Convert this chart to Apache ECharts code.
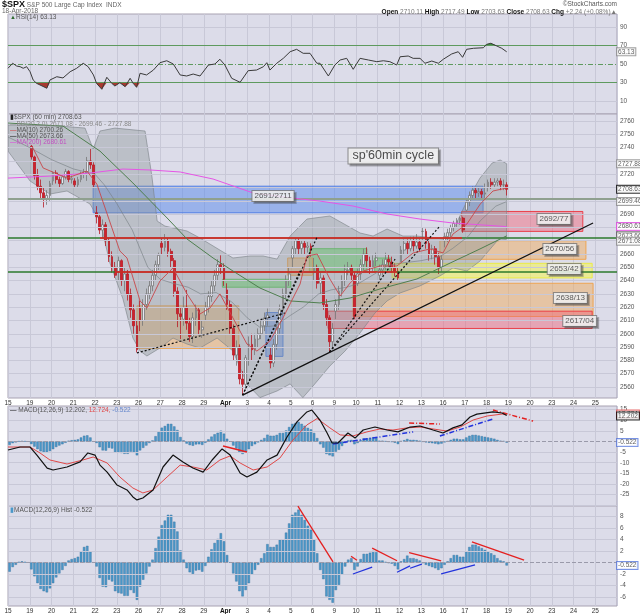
<!DOCTYPE html>
<html>
<head>
<meta charset="utf-8">
<script src="https://cdn.jsdelivr.net/npm/echarts@6.0.0/dist/echarts.min.js"></script>
<style>
html,body{margin:0;padding:0;background:#ffffff;}
#chart{width:640px;height:614px;}
</style>
</head>
<body>
<div id="chart"></div>
<script>
// ================= DATA =================
const dayLabels = ['15','19','20','21','22','23','26','27','28','29','Apr','3','4','5','6','9','10','11','12','13','16','17','18','19','20','23','24','25'];

// hourly bars [open, high, low, close], 7 per trading day, starting Mar 19 (first day slot shows no bars)
const firstBar = 7;
const ohlc = [
 [2741,2742,2731,2733],[2733,2734,2716,2719],[2719,2724,2708,2711],[2711,2716,2702,2706],[2706,2710,2695,2701],[2701,2708,2697,2704],[2704,2715,2700,2713],
 [2715,2722,2712,2721],[2721,2723,2713,2716],[2716,2718,2710,2713],[2713,2720,2712,2718],[2718,2724,2716,2722],[2722,2723,2714,2716],[2716,2719,2713,2717],
 [2715,2717,2710,2712],[2712,2718,2710,2716],[2716,2722,2714,2720],[2720,2724,2717,2722],[2722,2733,2715,2730],[2730,2739,2724,2727],[2727,2729,2710,2712],
 [2691,2696,2683,2688],[2688,2690,2675,2678],[2678,2686,2672,2682],[2682,2684,2666,2670],[2670,2672,2654,2658],[2658,2662,2646,2650],[2650,2654,2642,2644],
 [2647,2658,2640,2655],[2655,2656,2636,2640],[2640,2650,2632,2645],[2645,2648,2625,2630],[2630,2634,2612,2618],[2618,2622,2600,2606],[2606,2610,2586,2588],
 [2619,2625,2602,2610],[2610,2626,2606,2622],[2622,2634,2618,2630],[2630,2640,2626,2636],[2636,2648,2632,2644],[2644,2655,2640,2652],[2652,2661,2648,2659],
 [2668,2672,2660,2665],[2665,2675,2662,2670],[2670,2672,2658,2662],[2662,2664,2650,2655],[2655,2657,2628,2632],[2632,2635,2605,2615],[2615,2620,2596,2613],
 [2611,2628,2606,2620],[2620,2633,2603,2608],[2608,2612,2594,2598],[2598,2616,2593,2612],[2612,2622,2606,2618],[2618,2620,2599,2603],[2603,2610,2597,2605],
 [2614,2624,2610,2620],[2620,2632,2616,2628],[2628,2640,2624,2636],[2636,2648,2632,2644],[2644,2656,2640,2652],[2652,2659,2645,2650],[2650,2653,2636,2641],
 [2633,2638,2618,2622],[2622,2625,2600,2604],[2604,2607,2580,2584],[2584,2595,2576,2590],[2590,2592,2562,2566],[2566,2572,2554,2562],[2562,2584,2558,2582],
 [2592,2598,2576,2592],[2592,2600,2580,2588],[2588,2600,2584,2596],[2596,2604,2590,2600],[2600,2610,2596,2606],[2606,2616,2602,2612],[2612,2619,2606,2614],
 [2584,2590,2574,2578],[2578,2596,2575,2592],[2592,2608,2588,2604],[2604,2622,2600,2618],[2618,2634,2614,2630],[2630,2644,2626,2640],[2640,2650,2636,2645],
 [2657,2666,2650,2664],[2664,2672,2660,2670],[2670,2672,2660,2664],[2664,2670,2660,2668],[2668,2670,2660,2665],[2665,2669,2661,2666],[2666,2668,2658,2663],
 [2646,2657,2640,2650],[2650,2652,2634,2638],[2638,2646,2630,2642],[2642,2644,2618,2622],[2622,2626,2606,2612],[2612,2614,2586,2594],[2594,2608,2590,2604],
 [2617,2626,2611,2622],[2622,2636,2618,2632],[2632,2644,2628,2640],[2640,2652,2636,2648],[2648,2654,2644,2650],[2650,2652,2640,2644],[2644,2646,2611,2613],
 [2638,2649,2636,2645],[2645,2656,2640,2652],[2652,2664,2648,2660],[2660,2665,2650,2655],[2655,2658,2645,2650],[2650,2659,2647,2655],[2655,2661,2651,2657],
 [2644,2652,2639,2648],[2648,2656,2644,2652],[2652,2661,2648,2656],[2656,2660,2650,2654],[2654,2658,2646,2650],[2650,2653,2643,2647],[2647,2650,2640,2642],
 [2654,2666,2654,2663],[2663,2671,2660,2668],[2668,2671,2660,2664],[2664,2673,2662,2670],[2670,2673,2662,2666],[2666,2675,2664,2669],[2669,2671,2662,2664],
 [2677,2680,2670,2677],[2677,2679,2664,2668],[2668,2670,2655,2660],[2660,2667,2656,2664],[2664,2666,2652,2658],[2658,2661,2645,2650],[2650,2659,2647,2656],
 [2670,2676,2665,2673],[2673,2679,2669,2676],[2676,2682,2672,2680],[2680,2685,2677,2683],[2683,2687,2680,2685],[2685,2688,2682,2687],[2687,2688,2676,2678],
 [2693,2702,2692,2699],[2699,2707,2696,2704],[2704,2711,2701,2708],[2708,2710,2702,2706],[2706,2710,2703,2707],[2707,2709,2702,2705],[2705,2713,2702,2706],
 [2710,2716,2707,2714],[2714,2717,2709,2712],[2712,2717,2710,2714],[2714,2717,2711,2715],[2715,2717,2708,2712],[2712,2716,2708,2712],[2712,2714,2704,2708.63]
];

// overlay lines, [bar position, value]
const ma10 = [[7.7,2741.2],[11.3,2724.7],[19,2717.1],[25.4,2722.4],[28.6,2712.6],[36,2662.3],[38.3,2657],[42.5,2624.7],[44.7,2619.4],[48.9,2639.7],[53.1,2649.5],[57.6,2630],[61.8,2614.9],[65,2619.4],[68.2,2630],[72.4,2611.9],[76.9,2592.3],[80.1,2587],[84.3,2594.6],[88.5,2611.9],[94,2637.4],[96.2,2658.5],[99.5,2660],[103.6,2641.2],[106.9,2628.4],[110.1,2638.2],[114.3,2647.2],[119.7,2651],[125.2,2651],[130.4,2660.8],[135.8,2663.8],[140,2660.8],[143.2,2675],[147.7,2682.6],[152,2697.6],[156.1,2707.4],[160.5,2709.6]];
const ma50 = [[0,2758.5],[17.7,2756.2],[29.6,2737.4],[40.2,2713.4],[51.2,2687.1],[57.6,2671.3],[66,2657],[72.4,2647.2],[81.1,2634.4],[90.8,2624.7],[100.4,2623.2],[110.1,2626.9],[119.7,2633.7],[131.6,2641.2],[142.3,2653.2],[151.9,2663.8],[160.5,2673.66]];
const ma200 = [[0,2717.1],[13.5,2718.6],[26.4,2720.9],[37,2723.9],[45.7,2723.2],[55.4,2721.7],[66,2716.4],[78.9,2705.9],[94,2701.4],[100.4,2699.8],[111,2696.1],[122,2690.1],[132.6,2686.3],[143.2,2683.3],[160.5,2680.61]];
const bbUpper = [[0,2757],[5.5,2757],[16.7,2756.2],[24.8,2754.7],[27.4,2739],[29.6,2752.5],[34.4,2754.7],[44.1,2752.5],[46.3,2718.6],[48,2684.8],[50.5,2681],[57.6,2677.3],[61.8,2672],[72.4,2657],[77.9,2658.5],[82.1,2658.5],[86.6,2656.2],[90.8,2673.5],[96.2,2686.3],[103.6,2688.6],[113.3,2675.8],[117.5,2673.5],[122,2678.8],[127.1,2673.5],[131.6,2673.5],[140,2671.3],[143.9,2681],[147.7,2699.8],[151.9,2717.1],[155.8,2728.4],[158.4,2730.7],[160.5,2727.88]];
const bbLower = [[0,2737.4],[7.1,2714.9],[13.5,2705.1],[19,2707.4],[26.4,2697.6],[29.6,2684.8],[32.8,2653.2],[37,2626.2],[40.2,2596.8],[42.5,2587.1],[44.7,2583.3],[48.9,2589.3],[53.1,2596.8],[57.6,2592.3],[61.8,2589.3],[67.3,2596.8],[72.4,2587.1],[76.9,2562.3],[81.1,2552],[86.6,2557],[90.8,2562.3],[94.9,2552],[98.2,2560.8],[103.6,2575.8],[108.5,2587.1],[113.3,2600.6],[118.1,2615.6],[122,2624.7],[126.2,2630.7],[132.6,2636],[139,2643.5],[143.2,2649.5],[147.7,2647.2],[151.9,2654.7],[157.4,2669.8],[160.5,2671.08]];
const bbMid = [[0,2748],[7,2740],[14,2731],[21,2724],[28,2720],[31,2712],[35,2698],[40,2678],[45,2650],[49,2641],[53,2638],[58,2635],[62,2630],[67,2631],[72,2624],[77,2612],[81,2605],[86,2606],[91,2614],[95,2620],[100,2630],[104,2633],[109,2635],[113,2638],[118,2645],[122,2651],[126,2653],[133,2655],[139,2658],[143,2664],[148,2673],[152,2685],[157,2696],[160.5,2699.46]];

const rsi = [[0,45.4],[1.5,50.8],[2.8,47.8],[3.9,47.1],[4.9,45.4],[6,47.1],[7.1,41.7],[8.1,32.8],[9.2,29.2],[12.5,23.9],[13.5,32.8],[15.7,36.3],[17.7,35],[20,41.7],[22.1,45.4],[24.2,50.8],[25.8,47.1],[27.5,38.2],[28.5,29.2],[30.2,22.8],[31.8,35.7],[33.4,29.2],[34.4,26.3],[36,29.9],[37.7,25.6],[39.3,34.6],[40.3,29.2],[41.4,24.9],[42.5,40],[44.6,38.2],[46.8,43.5],[48.9,51.4],[51.1,53.5],[53.2,50],[55.4,38.2],[57.5,37.1],[59.6,39.2],[61.8,37.1],[64.5,48.9],[66.6,50],[68.2,55.1],[69.8,48.9],[72,34.6],[74.7,30.3],[77.3,42.8],[80,43.5],[82.2,47.1],[83.3,51.4],[84.3,43.5],[86.5,50.8],[88.6,56.1],[90.8,63.2],[92.9,65.8],[95,61.5],[97.2,61.5],[99.4,50.8],[100.4,50.8],[103.1,37.1],[105.2,48.9],[106.9,54.3],[109,56.1],[111.1,44.3],[113.3,56.1],[116,54.3],[118.7,52.5],[120.8,53.5],[122.9,52.5],[125.1,48.9],[126.2,57.8],[128.8,58.6],[130.4,56.1],[132.6,56.1],[134.2,50.8],[136.4,53.2],[138.5,50.8],[140.1,55.1],[142.8,60.8],[144.9,63.2],[146.3,57.2],[147.6,65.8],[149.8,66.9],[153,67.5],[154.1,71.2],[155.4,72.3],[157.3,69.4],[158.9,66.9],[160.5,63.13]];

const macd = [[0,-4],[3.9,-2.6],[7.1,-2.6],[9.3,-6.4],[12.6,-12.5],[14.5,-13.4],[19,-12],[23.2,-9.6],[25.7,-5.4],[28,-6.4],[29.6,-11.1],[31.9,-14.4],[35.1,-20.5],[38.3,-22.8],[40.2,-26.1],[41.5,-27.5],[43.4,-26.6],[46.7,-22.8],[49.9,-12],[53.1,-6.4],[56.3,-9.6],[59.5,-12.5],[62.8,-14.4],[65.7,-8.7],[68.9,-3.5],[71.5,-6.4],[74.7,-14.8],[76.9,-16.7],[80.1,-14.4],[83.4,-8.7],[86.6,-6.4],[89.8,2.1],[93,9.2],[96.2,13.9],[97.8,14.8],[100.4,10.1],[102.7,4],[104.3,-0.7],[106.2,-0.7],[109.4,4],[111.7,1.6],[114.3,5.4],[118.1,6.8],[122,5.4],[125.5,4.5],[129.4,6.8],[132.6,7.3],[136.8,5.4],[140,4],[143.2,6.4],[146.1,7.8],[148.7,11.5],[150.9,12.9],[156.1,13.9],[159,13.4],[160.5,12.202]];
const signal = [[0,-2.6],[7.1,-2.6],[10.3,-5.4],[13.5,-8.7],[19,-10.6],[24.1,-8.7],[27.4,-7.3],[31.9,-10.1],[36,-16.7],[40.2,-21.9],[43.4,-24.2],[46.7,-22.8],[51.2,-16.7],[55.4,-11.1],[59.5,-12],[64,-13.4],[68.2,-8.7],[71.5,-6.8],[74.7,-10.1],[78.9,-13.4],[83.4,-12],[87.5,-7.8],[91.7,0.7],[96.2,7.8],[99.5,10.8],[103.6,6.4],[106.9,3.1],[111,2.6],[115.5,4.5],[119.7,5.9],[123.9,5.4],[128.4,6.4],[132.6,6.8],[136.8,5.9],[141.3,4.9],[145.5,6.8],[149.7,10.1],[154.2,12],[159,12.9],[160.5,12.724]];
const hist = [
 -1.6,-0.8,-0.4,0.1,0.2,0.1,0,
 -1.2,-2.4,-3.6,-4.6,-5.0,-5.2,-4.5,
 -3.6,-2.6,-1.9,-1.3,-0.6,0.35,0.6,
 0.75,1.0,1.9,2.7,2.9,1.9,0,
 -0.7,-2.7,-4.2,-4.3,-3.0,-3.3,-5.0,
 -5.3,-5.4,-5.8,-5.8,-4.8,-5.3,-6.5,
 -4.2,-3.0,-1.9,-0.7,0.5,2.5,4.5,
 6.5,7.3,8.3,8.3,7.1,5.4,2.1,
 0.5,-1.0,-1.7,-2.0,-1.4,-1.3,-1.6,
 -0.6,1.0,2.3,3.4,4.1,5.1,3.7,
 1.3,0,-1.9,-3.3,-5.0,-5.9,-4.8,
 -3.6,-2.1,-1.3,-0.4,0.75,1.6,3.2,
 2.7,2.7,3.1,4.0,4.0,5.2,6.8,
 8.3,8.7,9.2,8.3,7.4,6.4,5.7,
 4.0,1.6,-1.3,-2.9,-5.9,-6.5,-7.0,
 -4.8,-3.9,-2.1,-0.7,0.5,0.75,-1.3,
 -0.7,0.6,1.5,1.5,1.7,2.0,1.8,
 0.35,0.35,0.1,-0.1,-0.2,-0.6,-1.2,
 0.2,0.6,1.2,0.75,0.75,0.6,0.35,
 -0.1,-0.4,-0.6,-0.8,-1.0,-1.3,-1.0,
 -0.4,0.2,0.75,1.3,1.3,1.0,1.0,
 1.9,2.7,3.1,3.1,2.8,2.5,2.2,
 1.9,1.6,1.3,0.75,0.35,0.2,-0.522
];

// annotations (data units: bar position, price / indicator value)
const zones = [
 [27.4,152.9,2691,2711,'blue'],
 [146,185,2677,2692,'red'],
 [139,186,2656,2670,'orange'],
 [123.6,188,2642,2653,'yellow'],
 [111,188.3,2613,2638,'orange'],
 [103,188,2604,2617,'red'],
 [97,115.5,2647,2664,'green'],
 [118,123,2647,2657,'green'],
 [69,91,2635,2641,'green'],
 [90,98,2644,2657,'orange'],
 [41.5,74.3,2589,2621,'orange'],
 [83,88.5,2583,2616,'blue']
];
const zoneLabels = [['2691/2711',85.3,2703.6],['2692/77',175.7,2686.3],['2670/56',177.6,2663.8],['2653/42',179,2648.7],['2638/13',181,2627],['2617/04',184,2609.6]];
const titleNote = ["sp'60min cycle",124,2733.7];
const levelLines = [[2701.5,'gray'],[2672.5,'green'],[2646.5,'green']];
const redSegments = [[29.6,146.1,2672.5],[34.4,125.2,2646.5]];
const trendLines = [
 [41.5,2585.6,89.2,2615.6,'dot'],
 [75.5,2553.8,99.5,2672.8,'dot'],
 [75.5,2553.8,94,2647.2,'dot'],
 [103.5,2586.3,124.6,2656.2,'dot'],
 [103.5,2586.3,139,2681,'dot'],
 [75.5,2553.8,188.3,2683.3,'solid']
];
const macdMarks = [[69.2,-2.1,76.9,-4.9,'red'],[129.1,8.7,139,8.2,'red'],[156.1,14.8,169,9.6,'red'],[104.6,-1.2,130.4,4.5,'blue'],[139,2.6,156.1,10.6,'blue']];
const histMarks = [[93.3,9.8,104.6,0.1,'red'],[104.6,-7.7,109.1,-1.8,'blue'],[110.4,1.1,112.3,0.4,'red'],[111,-2,117.2,-0.8,'blue'],[117.2,2.5,125.2,0.3,'red'],[125.2,-1.7,129.4,-0.6,'blue'],[129.4,-1,133.2,-0.3,'blue'],[129.1,1.7,139.4,0.3,'red'],[139.4,-2,150.3,-0.4,'blue'],[149.3,3.6,166.1,0.4,'red']];

// axis tick values
const priceGridVals = [2560,2570,2580,2590,2600,2610,2620,2630,2640,2650,2660,2670,2680,2690,2700,2710,2720,2730,2740,2750,2760];
const priceTickLabels = [2560,2570,2580,2590,2600,2610,2620,2630,2640,2650,2660,2690,2720,2740,2750,2760];
const rsiTickLabels = [10,30,50,70,90];
const macdTickLabels = [15,10,5,-5,-10,-15,-20,-25];
const macdGridVals = [15,10,5,-5,-10,-15,-20,-25,-30];
const histTickLabels = [8,6,4,2,-2,-4,-6];
const histGridVals = [8,6,4,2,-2,-4,-6];
const priceTags = [['2727.88',2727.88,'#8a8a8a'],['2708.63',2708.63,'#000000'],['2699.46',2699.46,'#8a8a8a'],['2680.61',2680.61,'#e040e0'],['2673.66',2673.66,'#555555'],['2671.08',2669.6,'#8a8a8a']];

// ================= CHART =================
const N = 196;
const cats = Array.from({length: N}, (_, i) => i);
const FONT = 'Liberation Sans, Arial, sans-serif';
const BG = '#dcdce9';
const GRIDC = '#c8c8d7';
const BORDER = '#a8a2b2';

const panels = [[14,100],[114,284],[406,100],[506,100]];
const grid = panels.map(([t,h]) => ({left:8, right:23, top:t, height:h, show:true, backgroundColor:BG, borderColor:BORDER, borderWidth:1, containLabel:false, outerBoundsMode:'none'}));

const dayFmt = v => { const k = Math.round(v/7); const t = dayLabels[k]; if (t === undefined) return ''; return t === 'Apr' ? '{b|Apr}' : t; };
function valueX(g, withLabels) {
  return {type:'value', gridIndex:g, min:0, max:N, interval:7,
    axisLine:{show:false}, axisTick:{show:false},
    splitLine:{show:true, lineStyle:{color:GRIDC, width:1}},
    axisLabel: withLabels ? {show:true, formatter:dayFmt, fontSize:6.5, color:'#333', margin:2, fontFamily:FONT, showMaxLabel:false,
      rich:{b:{fontWeight:'bold', fontSize:6.5, color:'#111', fontFamily:FONT}}} : {show:false}};
}
function catX(g) { return {type:'category', gridIndex:g, data:cats, boundaryGap:true, show:false}; }
function valY(g, min, max, labels) {
  return {type:'value', gridIndex:g, position:'right', min:min, max:max,
    axisLine:{show:false}, axisTick:{show:false}, splitLine:{show:false},
    axisLabel:{show:true, customValues:labels, formatter: v => String(v), fontSize:6.5, color:'#555', margin:3, fontFamily:FONT}};
}

function gridLines(xi, yi, vals, extra) {
  return {type:'line', xAxisIndex:xi, yAxisIndex:yi, data:[], silent:true, z:1,
    markLine:{silent:true, symbol:['none','none'], label:{show:false}, animation:false,
      data: vals.map(v => ({yAxis:v, lineStyle:{color:GRIDC, width:1, type:'solid'}})).concat(extra || [])}};
}
function lineS(xi, yi, data, color, width, z) {
  return {type:'line', xAxisIndex:xi, yAxisIndex:yi, data:data, symbol:'none', silent:true, z:z || 6,
    lineStyle:{color:color, width:width}, emphasis:{disabled:true}};
}
function segs(xi, yi, list, z) {
  return {type:'line', xAxisIndex:xi, yAxisIndex:yi, data:[], silent:true, z:z || 7,
    markLine:{silent:true, symbol:['none','none'], label:{show:false}, animation:false, data:list}};
}
function tags(xi, yi, list, z) {
  return {type:'scatter', xAxisIndex:xi, yAxisIndex:yi, symbolSize:0.1, silent:true, clip:false, z:z || 12,
    itemStyle:{color:'transparent'},
    data: list.map(([t,v,c]) => ({name:t, value:[N, v], label:{borderColor:c}})),
    label:{show:true, position:'right', distance:0, formatter:'{b}', fontSize:6.5, color:'#333', fontFamily:FONT,
      backgroundColor:'#ffffff', borderWidth:1, padding:[0,1]}};
}
function clampFill(data, level, below, color) {
  return {type:'custom', xAxisIndex:0, yAxisIndex:0, data:[[0,50]], silent:true, z:3, clip:true,
    renderItem: (params, api) => {
      const pts = data.map(([x,y]) => api.coord([x, below ? Math.min(y, level) : Math.max(y, level)]));
      pts.push(api.coord([data[data.length-1][0], level]));
      pts.push(api.coord([data[0][0], level]));
      return {type:'polygon', shape:{points:pts}, style:{fill:color}};
    }};
}

const zoneStyle = {
  blue:{color:'rgba(85,135,235,0.5)', borderColor:'rgba(70,120,230,0.9)', borderWidth:1},
  red:{color:'rgba(240,95,115,0.45)', borderColor:'rgba(235,50,60,0.9)', borderWidth:1},
  orange:{color:'rgba(238,172,95,0.5)', borderColor:'rgba(240,160,70,0.9)', borderWidth:1},
  yellow:{color:'rgba(246,246,80,0.55)', borderColor:'rgba(235,235,60,0.9)', borderWidth:1},
  green:{color:'rgba(105,225,105,0.6)', borderColor:'rgba(80,200,80,0.9)', borderWidth:1}
};
const markColor = {red:'#e42020', blue:'#2233dd'};

const series = [];
// ---- RSI panel ----
series.push(gridLines(0, 0, [10,90], [
  {yAxis:70, lineStyle:{color:'#5e9a5e', width:1, type:'solid'}},
  {yAxis:30, lineStyle:{color:'#5e9a5e', width:1, type:'solid'}},
  {yAxis:50, lineStyle:{color:'#5e9a5e', width:1, type:[5,2,1,2]}}
]));
series.push(clampFill(rsi, 30, true, '#a8392f'));
series.push(clampFill(rsi, 70, false, '#3f8f3f'));
series.push(lineS(0, 0, rsi, '#3a3a3a', 1, 5));
series.push(tags(0, 0, [['63.13', 63.13, '#8a8a8a']]));

// ---- Price panel ----
series.push(gridLines(1, 1, priceGridVals));
series.push({type:'custom', xAxisIndex:1, yAxisIndex:1, data:[[0,2650]], silent:true, z:2, clip:true,
  renderItem: (params, api) => {
    const pts = bbUpper.map(p => api.coord(p)).concat(bbLower.slice().reverse().map(p => api.coord(p)));
    return {type:'polygon', shape:{points:pts}, style:{fill:'rgba(140,150,152,0.42)', stroke:'rgba(120,128,132,0.75)', lineWidth:0.8}};
  }});
const candleData = Array(firstBar).fill('-').concat(ohlc.map(([o,h,l,c]) => [o,c,l,h]));
series.push({type:'candlestick', xAxisIndex:2, yAxisIndex:1, silent:true, z:3, barWidth:2.3,
  data: candleData,
  itemStyle:{color:'#e8e8f0', color0:'#d0222c', borderColor:'#777777', borderColor0:'#b81c26', borderWidth:0.8}});
series.push({type:'line', xAxisIndex:1, yAxisIndex:1, data:[], silent:true, z:4,
  markArea:{silent:true, animation:false, label:{show:false},
    data: zones.map(([x0,x1,lo,hi,k]) => [{xAxis:x0, yAxis:hi, itemStyle:zoneStyle[k]}, {xAxis:x1, yAxis:lo}])}});
series.push(segs(1, 1, levelLines.map(([p,k]) => [
  {coord:[0,p], lineStyle:{color: k === 'gray' ? '#8fa08f' : '#2c7a2c', width: k === 'gray' ? 2 : 1.5, type:'solid'}}, {coord:[N,p]}]), 5));
series.push(segs(1, 1, redSegments.map(([x0,x1,p]) => [
  {coord:[x0,p], lineStyle:{color:'#ee1c24', width:1.5, type:'solid'}}, {coord:[x1,p]}]), 5));
series.push(lineS(1, 1, bbMid, 'rgba(120,128,132,0.8)', 0.8, 6));
series.push(lineS(1, 1, ma200, '#e655e6', 1, 6));
series.push(lineS(1, 1, ma50, '#4f7f4f', 1, 6));
series.push(lineS(1, 1, ma10, '#c8464a', 0.9, 6));
series.push(segs(1, 1, trendLines.map(([x0,p0,x1,p1,t]) => [
  {coord:[x0,p0], lineStyle:{color:'#111', width: t === 'dot' ? 1.2 : 1.3, type: t === 'dot' ? [2,2] : 'solid'}}, {coord:[x1,p1]}]), 8));
series.push({type:'scatter', xAxisIndex:1, yAxisIndex:1, symbolSize:0.1, silent:true, clip:false, z:12,
  itemStyle:{color:'transparent'},
  data: zoneLabels.map(([t,x,y]) => ({name:t, value:[x,y]})),
  label:{show:true, position:'inside', formatter:'{b}', fontSize:8, color:'#333', fontFamily:FONT,
    backgroundColor:'#ffffff', borderColor:'#777', borderWidth:1, padding:[1,2],
    shadowColor:'rgba(70,70,70,0.45)', shadowOffsetX:2, shadowOffsetY:2, shadowBlur:0}});
series.push({type:'scatter', xAxisIndex:1, yAxisIndex:1, symbolSize:0.1, silent:true, clip:false, z:12,
  itemStyle:{color:'transparent'},
  data: [{name:titleNote[0], value:[titleNote[1], titleNote[2]]}],
  label:{show:true, position:'inside', formatter:'{b}', fontSize:12.5, color:'#222', fontFamily:FONT,
    backgroundColor:'#ffffff', borderColor:'#777', borderWidth:1, padding:[1,4],
    shadowColor:'rgba(70,70,70,0.45)', shadowOffsetX:2, shadowOffsetY:2, shadowBlur:0}});
series.push(tags(1, 1, priceTags));

// ---- MACD panel ----
series.push(gridLines(3, 2, macdGridVals, [{yAxis:0, lineStyle:{color:'#9a9aaa', width:1}}]));
series.push({type:'bar', xAxisIndex:4, yAxisIndex:2, data:hist, barWidth:2.4, silent:true, z:3,
  itemStyle:{color:'#4b98c9', borderColor:'#34709c', borderWidth:0.4}});
series.push(lineS(3, 2, signal, '#e04848', 1, 6));
series.push(lineS(3, 2, macd, '#111111', 1.2, 7));
series.push(segs(3, 2, macdMarks.map(([x0,y0,x1,y1,c], i) => [
  {coord:[x0,y0], lineStyle:{color:markColor[c], width:1.5, type: i === 0 ? 'solid' : [5,2,1,2]}}, {coord:[x1,y1]}]), 8));
series.push(tags(3, 2, [['12.724', 12.9, '#e04848'], ['12.202', 12.0, '#000000'], ['-0.522', -0.522, '#5577dd']]));

// ---- Histogram panel ----
series.push(gridLines(5, 3, histGridVals, [{yAxis:0, lineStyle:{color:'#9a9aaa', width:1}}]));
series.push({type:'bar', xAxisIndex:6, yAxisIndex:3, data:hist, barWidth:2.4, silent:true, z:3,
  itemStyle:{color:'#4b98c9', borderColor:'#34709c', borderWidth:0.4}});
series.push(segs(5, 3, histMarks.map(([x0,y0,x1,y1,c]) => [
  {coord:[x0,y0], lineStyle:{color:markColor[c], width:1.3, type:'solid'}}, {coord:[x1,y1]}]), 8));
series.push(tags(5, 3, [['-0.522', -0.522, '#5577dd']]));

// ---- texts ----
function txt(x, y, text, rich, extra) {
  return {type:'text', x:x, y:y, silent:true, z:100,
    style:Object.assign({text:text, fontSize:6.5, fontFamily:FONT, fill:'#555', rich:rich || {}, verticalAlign:'middle'}, extra || {})};
}
const graphic = [
  txt(2, 5, '{b|$SPX} S&P 500 Large Cap Index  INDX', {b:{fontSize:9, fontWeight:'bold', fill:'#111', fontFamily:FONT}}, {fill:'#666'}),
  txt(2, 11.5, '18-Apr-2018', null, {fill:'#666'}),
  txt(617, 4, '\u00a9StockCharts.com', null, {align:'right', fill:'#555'}),
  txt(617, 12, '{b|Open} 2710.11 {b|High} 2717.49 {b|Low} 2703.63 {b|Close} 2708.63 {b|Chg} +2.24 (+0.08%)\u25b2',
      {b:{fontSize:6.5, fontWeight:'bold', fill:'#111', fontFamily:FONT}}, {align:'right', fill:'#777'}),
  txt(10, 17.5, '{g|\u25b2}RSI(14) 63.13', {g:{fontSize:6, fill:'#2f6a2f', fontFamily:FONT}}, {fill:'#555'}),
  txt(10, 117.5, '{k|\u25ae}$SPX (60 min) 2708.63', {k:{fontSize:6.5, fill:'#222', fontFamily:FONT}}, {fill:'#555'}),
  txt(10, 124, '{s|\u2014}BB(20,2.0) 2671.08 - 2699.46 - 2727.88', {s:{fontSize:6.5, fill:'#999', fontFamily:FONT}}, {fill:'#888'}),
  txt(10, 130.5, '{s|\u2014}MA(10) 2700.26', {s:{fontSize:6.5, fill:'#d04040', fontFamily:FONT}}, {fill:'#555'}),
  txt(10, 136.5, '{s|\u2014}MA(50) 2673.66', {s:{fontSize:6.5, fill:'#111', fontFamily:FONT}}, {fill:'#555'}),
  txt(10, 142, '{s|\u2014}MA(200) 2680.61', {s:{fontSize:6.5, fill:'#e040e0', fontFamily:FONT}}, {fill:'#c050c0'}),
  txt(10, 410.5, '{s|\u2014} MACD(12,26,9) 12.202, {r|12.724,} {b|-0.522}', {s:{fontSize:6.5, fill:'#111', fontFamily:FONT}, r:{fontSize:6.5, fill:'#e04848', fontFamily:FONT}, b:{fontSize:6.5, fill:'#6688cc', fontFamily:FONT}}, {fill:'#555'}),
  txt(10, 510.5, '{s|\u25ae}MACD(12,26,9) Hist -0.522', {s:{fontSize:6.5, fill:'#4b98c9', fontFamily:FONT}}, {fill:'#555'})
];

const chart = echarts.init(document.getElementById('chart'), null, {renderer:'canvas'});
chart.setOption({
  animation:false,
  backgroundColor:'#ffffff',
  textStyle:{fontFamily:FONT},
  grid: grid,
  xAxis: [valueX(0,false), valueX(1,true), catX(1), valueX(2,false), catX(2), valueX(3,true), catX(3)],
  yAxis: [valY(0,-3.8,103.8,rsiTickLabels), valY(1,2551.7,2765.3,priceTickLabels), valY(2,-30.35,16.7,macdTickLabels), valY(3,-7.57,9.83,histTickLabels)],
  series: series,
  graphic: graphic
});
</script>
</body>
</html>
